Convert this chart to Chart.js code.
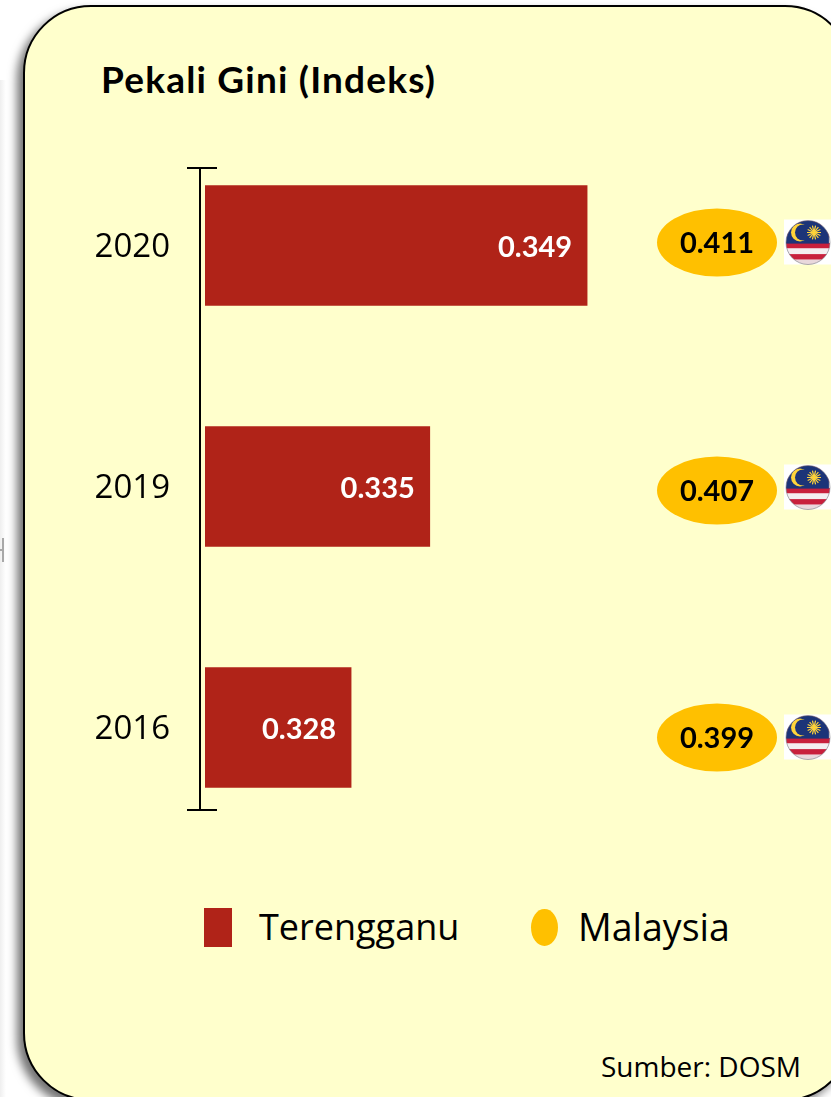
<!DOCTYPE html>
<html>

<head>
    <title>Pekali Gini (Indeks)</title>
    <style>
        html, body { margin: 0; padding: 0; background: #fff; overflow: hidden; }
        #page { position: relative; width: 831px; height: 1097px; overflow: hidden; }
        #edge { position: absolute; left: 0; top: 80px; width: 6px; height: 1017px; background: linear-gradient(to right, #efefef, #fff); }
        #handleV { position: absolute; left: 2px; top: 538px; width: 2px; height: 24px; background: #a8a8a8; }
        #handleH { position: absolute; left: 0; top: 549px; width: 3px; height: 2px; background: #a8a8a8; }
        #panel {
            position: absolute; left: 23px; top: 5px; width: 830px; height: 1096px;
            box-sizing: border-box; background: #ffffcc; border: 2.5px solid #000; border-radius: 68px;
            box-shadow: -6px 6px 10px rgba(0, 0, 0, 0.55);
        }
        #title { position: absolute; left: 101px; top: 56px; font: bold 37px Lato, sans-serif; letter-spacing: 1.2px; color: #000; white-space: nowrap; }
        #source { position: absolute; left: 601px; top: 1047px; font: 28px "Open Sans", sans-serif; color: #000; white-space: nowrap; }
        .legendText { position: absolute; top: 902px; font: 36px "Open Sans", sans-serif; color: #000; white-space: nowrap; }
        #keyBar { position: absolute; left: 204px; top: 908px; width: 28px; height: 39px; background: #b02318; }
        #keyDot { position: absolute; left: 531px; top: 909px; width: 27px; height: 37px; border-radius: 50%; background: #ffc000; }
        #grafico { position: absolute; left: 0; top: 0; }
    </style>
</head>

<body>
    <div id="page">
        <div id="edge"></div>
        <div id="handleV"></div>
        <div id="handleH"></div>
        <div id="panel"></div>
        <div id="title">Pekali Gini (Indeks)</div>
        <div id="keyBar"></div>
        <div class="legendText" style="left:259px">Terengganu</div>
        <div id="keyDot"></div>
        <div class="legendText" style="left:578px;font-size:37.5px;top:901px">Malaysia</div>
        <div id="source">Sumber: DOSM</div>
        <canvas id="grafico" width="831" height="1097"></canvas>
    </div>

    <script src="https://cdn.jsdelivr.net/npm/chart.js"></script>

    <script>
        // Data
        var tahun = ["2020", "2019", "2016"];
        var terengganu = [0.349, 0.335, 0.328];
        var malaysia = [0.411, 0.407, 0.399];

        // Ovals and flags do not sit exactly on the bar centres in the original
        var ovalShift = [-3, 4, 10];
        var flagShift = [-3, 1, 10];

        function drawFlag(ctx, cx, cy) {
            var r = 22;
            ctx.save();
            ctx.fillStyle = "#fff";
            ctx.fillRect(cx - 24, cy - 23, 47, 45);
            ctx.beginPath();
            ctx.arc(cx, cy, r, 0, Math.PI * 2);
            ctx.clip();
            // stripes
            var colors = ["#c8203c", "#f4eef0", "#c8203c", "#f4eef0", "#c8203c", "#f4eef0", "#c8203c", "#e9d8dc"];
            for (var i = 0; i < colors.length; i++) {
                ctx.fillStyle = colors[i];
                ctx.fillRect(cx - r, cy - r + i * 5.6, r * 2, 5.6);
            }
            // canton
            ctx.fillStyle = "#1c3478";
            ctx.fillRect(cx - r, cy - r, r * 1.95, r * 1.05);
            // crescent
            ctx.fillStyle = "#ffd43a";
            ctx.beginPath();
            ctx.arc(cx - 8, cy - 10, 9, 0, Math.PI * 2);
            ctx.fill();
            ctx.fillStyle = "#1c3478";
            ctx.beginPath();
            ctx.arc(cx - 5, cy - 10, 8, 0, Math.PI * 2);
            ctx.fill();
            // sun
            ctx.strokeStyle = "#ffd43a";
            ctx.lineWidth = 1.2;
            for (var k = 0; k < 14; k++) {
                var a = k * Math.PI / 7;
                ctx.beginPath();
                ctx.moveTo(cx + 6, cy - 10);
                ctx.lineTo(cx + 6 + Math.cos(a) * 7, cy - 10 + Math.sin(a) * 7);
                ctx.stroke();
            }
            ctx.restore();
            // soft rim
            ctx.strokeStyle = "rgba(120,120,130,0.6)";
            ctx.lineWidth = 1;
            ctx.beginPath();
            ctx.arc(cx, cy, r, 0, Math.PI * 2);
            ctx.stroke();
        }

        // Axis line with its end caps, value labels, Malaysia ovals and flags
        var hiasan = {
            id: "hiasan",
            afterDatasetsDraw: function (chart) {
                var ctx = chart.ctx;
                var xs = chart.scales.x;
                var ys = chart.scales.y;

                ctx.save();
                ctx.strokeStyle = "#000";
                ctx.lineWidth = 2;
                ctx.beginPath();
                ctx.moveTo(200, 167);
                ctx.lineTo(200, 811);
                ctx.moveTo(187, 168);
                ctx.lineTo(217, 168);
                ctx.moveTo(187, 810);
                ctx.lineTo(217, 810);
                ctx.stroke();

                ctx.textBaseline = "middle";
                tahun.forEach(function (t, i) {
                    var y = ys.getPixelForValue(i);

                    ctx.fillStyle = "#fff";
                    ctx.textAlign = "right";
                    ctx.font = "bold 29px Lato, sans-serif";
                    ctx.fillText(terengganu[i].toFixed(3), xs.getPixelForValue(terengganu[i]) - 15, y + 2);

                    ctx.fillStyle = "#ffc000";
                    ctx.beginPath();
                    ctx.ellipse(717, y + ovalShift[i], 60, 34, 0, 0, Math.PI * 2);
                    ctx.fill();

                    ctx.fillStyle = "#000";
                    ctx.textAlign = "center";
                    ctx.fillText(malaysia[i].toFixed(3), 717, y + ovalShift[i] + 1);

                    drawFlag(ctx, 808, y + flagShift[i]);
                });
                ctx.restore();
            }
        };

        var grafico = new Chart(document.getElementById("grafico").getContext("2d"), {
            type: "bar",
            data: {
                labels: tahun,
                datasets: [
                    { label: "Terengganu", data: terengganu, backgroundColor: "#b02318", barThickness: 120 }
                ]
            },
            options: {
                indexAxis: "y",
                responsive: false,
                animation: false,
                layout: { padding: { top: 125, bottom: 249 } },
                plugins: { legend: { display: false }, tooltip: { enabled: false } },
                scales: {
                    x: { display: false, min: 0.315, max: 0.3707 },
                    y: {
                        afterFit: function (scale) { scale.width = 205; },
                        border: { display: false },
                        grid: { display: false, drawTicks: false },
                        ticks: { color: "#000", padding: 35, labelOffset: 2, font: { family: "Open Sans", size: 33 } }
                    }
                }
            },
            plugins: [hiasan]
        });
    </script>
</body>

</html>
